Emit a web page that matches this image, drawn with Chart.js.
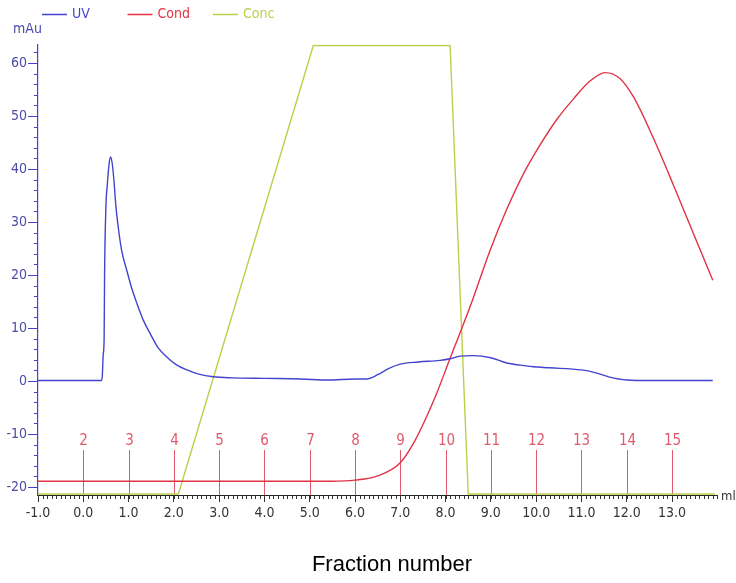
<!DOCTYPE html>
<html>
<head>
<meta charset="utf-8">
<title>Fraction number</title>
<script src="https://cdn.jsdelivr.net/npm/chart.js@4.4.1/dist/chart.umd.min.js"></script>
<style>
  html, body { margin: 0; padding: 0; background: #fff; }
  #wrap { width: 736px; height: 583px; }
</style>
</head>
<body>
<div id="wrap"><canvas id="chrom" width="736" height="583"></canvas></div>
<script>
// ---------------------------
// Run data (volume in ml)
// ---------------------------
const uvMl = [-1.0, 0.40, 0.42, 0.44, 0.46, 0.47, 0.50, 0.53, 0.57, 0.60, 0.64, 0.68, 0.72, 0.78,
  0.85, 0.96, 1.07, 1.19, 1.33, 1.48, 1.65, 1.85, 2.05, 2.29, 2.55, 2.87, 3.3, 4.0, 4.8,
  5.4, 6.0, 6.26, 6.5, 6.75, 7.0, 7.4, 7.88, 8.1, 8.32, 8.61, 9.0, 9.35, 9.65, 9.93, 10.3,
  11.0, 11.3, 11.6, 12.0, 12.5, 13.0, 13.9];
const uvMau = [0.1, 0.1, 1.0, 5, 8, 20, 33, 37, 41, 42.3, 41, 37.5, 33, 28.5,
  24.5, 20.9, 17.5, 14.5, 11.4, 8.9, 6.3, 4.5, 3.1, 2.1, 1.3, 0.8, 0.6, 0.5, 0.4,
  0.2, 0.4, 0.4, 1.2, 2.4, 3.2, 3.6, 3.9, 4.2, 4.7, 4.8, 4.4, 3.4, 3.0, 2.7, 2.5,
  2.1, 1.6, 0.8, 0.2, 0.1, 0.1, 0.1];

const condMl = [-1.0, 5.5, 6.0, 6.5, 7.0, 7.3, 7.55, 7.8, 8.1, 8.54, 8.98, 9.35, 9.72,
  10.09, 10.46, 10.82, 11.19, 11.52, 11.85, 12.15, 12.59, 13.03, 13.47, 13.90];
const condVal = [-18.9, -18.9, -18.7, -17.9, -15.4, -11.6, -7.3, -2.4, 4.3, 14.0, 24.6,
  32.4, 39.1, 44.6, 49.4, 53.2, 56.6, 58.2, 57.1, 53.6, 45.8, 37.0, 27.9, 19.0];

const concMl  = [-1.0, 2.10, 5.08, 8.10, 8.50, 13.95];
const concVal = [-21.3, -21.3, 63.3, 63.3, -21.3, -21.3];

// fraction collector marks
const fracMl     = [0, 1, 2, 3, 4, 5, 6, 7, 8, 9, 10, 11, 12, 13];
const fracLabels = ['2', '3', '4', '5', '6', '7', '8', '9', '10', '11', '12', '13', '14', '15'];

// axis ticks
const xTicks = [-1, 0, 1, 2, 3, 4, 5, 6, 7, 8, 9, 10, 11, 12, 13];
const yTicks = [-20, -10, 0, 10, 20, 30, 40, 50, 60];

const FONT = "'Liberation Sans Narrow', 'DejaVu Sans Condensed', 'Liberation Sans', sans-serif";
const UV_COLOR   = '#4343d0';
const COND_COLOR = '#e23344';
const CONC_COLOR = '#bccf4a';
const FRAC_COLOR = '#e05a6c';

function pts(xs, ys) { return xs.map((x, i) => ({ x, y: ys[i] })); }

// ---------------------------
// Extras: fraction marks, minor ticks, legend, unit labels
// ---------------------------
const chromExtras = {
  id: 'chromExtras',
  beforeDatasetsDraw(chart) {
    const { ctx, chartArea, scales: { x } } = chart;
    ctx.save();
    ctx.strokeStyle = FRAC_COLOR;
    ctx.fillStyle = FRAC_COLOR;
    ctx.lineWidth = 1;
    ctx.font = '15px ' + FONT;
    ctx.textAlign = 'center';
    ctx.textBaseline = 'middle';
    fracMl.forEach((ml, i) => {
      const px = Math.round(x.getPixelForValue(ml)) + 0.5;
      ctx.beginPath();
      ctx.moveTo(px, chartArea.bottom - 45);
      ctx.lineTo(px, chartArea.bottom);
      ctx.stroke();
      ctx.fillText(fracLabels[i], px, chartArea.bottom - 54);
    });
    ctx.restore();
  },
  afterDraw(chart) {
    const { ctx, chartArea, scales: { x, y } } = chart;
    ctx.save();
    ctx.lineWidth = 1;

    // minor ticks, 0.1 ml
    ctx.strokeStyle = '#333';
    for (let i = -10; i <= 140; i++) {
      const px = Math.round(x.getPixelForValue(i / 10)) + 0.5;
      ctx.beginPath();
      ctx.moveTo(px, chartArea.bottom);
      ctx.lineTo(px, chartArea.bottom + 4);
      ctx.stroke();
    }
    // minor ticks, 2 mAu
    ctx.strokeStyle = UV_COLOR;
    for (let v = -20; v <= 62; v += 2) {
      const py = Math.round(y.getPixelForValue(v)) + 0.5;
      ctx.beginPath();
      ctx.moveTo(chartArea.left - 4, py);
      ctx.lineTo(chartArea.left, py);
      ctx.stroke();
    }

    // legend
    ctx.font = '14px ' + FONT;
    ctx.textBaseline = 'middle';
    ctx.textAlign = 'left';
    let lx = 42;
    chart.data.datasets.forEach(ds => {
      ctx.strokeStyle = ds.borderColor;
      ctx.fillStyle = ds.borderColor;
      ctx.lineWidth = 1.5;
      ctx.beginPath();
      ctx.moveTo(lx, 14.5);
      ctx.lineTo(lx + 25, 14.5);
      ctx.stroke();
      ctx.fillText(ds.label, lx + 30, 14);
      lx += 85.5;
    });

    // units
    ctx.fillStyle = '#4b4ba8';
    ctx.fillText('mAu', 13, 29);
    ctx.fillStyle = '#333';
    ctx.font = '13px ' + FONT;
    ctx.fillText('ml', 721, chartArea.bottom + 2);

    // axis caption
    ctx.fillStyle = '#000';
    ctx.font = "22px 'Liberation Sans', Arial, sans-serif";
    ctx.textAlign = 'center';
    ctx.fillText('Fraction number', 392, 565);
    ctx.restore();
  }
};

// ---------------------------
// Chart
// ---------------------------
const chromChart = new Chart(document.getElementById('chrom'), {
  type: 'scatter',
  data: {
    datasets: [
      { label: 'UV',   data: pts(uvMl, uvMau),     borderColor: UV_COLOR,   cubicInterpolationMode: 'monotone' },
      { label: 'Cond', data: pts(condMl, condVal), borderColor: COND_COLOR, cubicInterpolationMode: 'monotone' },
      { label: 'Conc', data: pts(concMl, concVal), borderColor: CONC_COLOR, tension: 0 }
    ].map(ds => Object.assign({ showLine: true, pointRadius: 0, borderWidth: 1.4, fill: false }, ds))
  },
  options: {
    responsive: false,
    animation: false,
    layout: { padding: { top: 44.5, right: 18.7, left: 0, bottom: 0 } },
    plugins: { legend: { display: false }, tooltip: { enabled: false } },
    scales: {
      x: {
        type: 'linear',
        min: -1,
        max: 14,
        afterFit: s => { s.height = 88; },
        afterBuildTicks: s => { s.ticks = xTicks.map(v => ({ value: v })); },
        ticks: {
          autoSkip: false,
          maxRotation: 0,
          padding: 3,
          color: '#333',
          font: { family: FONT, size: 14 },
          callback: v => Number(v).toFixed(1)
        },
        grid: { drawOnChartArea: false, tickLength: 7, color: '#333' },
        border: { color: '#222', width: 1 }
      },
      y: {
        min: -21.5,
        max: 63.5,
        afterFit: s => { s.width = 38; },
        afterBuildTicks: s => { s.ticks = yTicks.map(v => ({ value: v })); },
        ticks: {
          padding: 1,
          color: '#4b4ba8',
          font: { family: FONT, size: 14 },
          callback: v => String(v)
        },
        grid: { drawOnChartArea: false, tickLength: 10, color: UV_COLOR },
        border: { color: UV_COLOR, width: 1.2 }
      }
    }
  },
  plugins: [chromExtras]
});
</script>
</body>
</html>
